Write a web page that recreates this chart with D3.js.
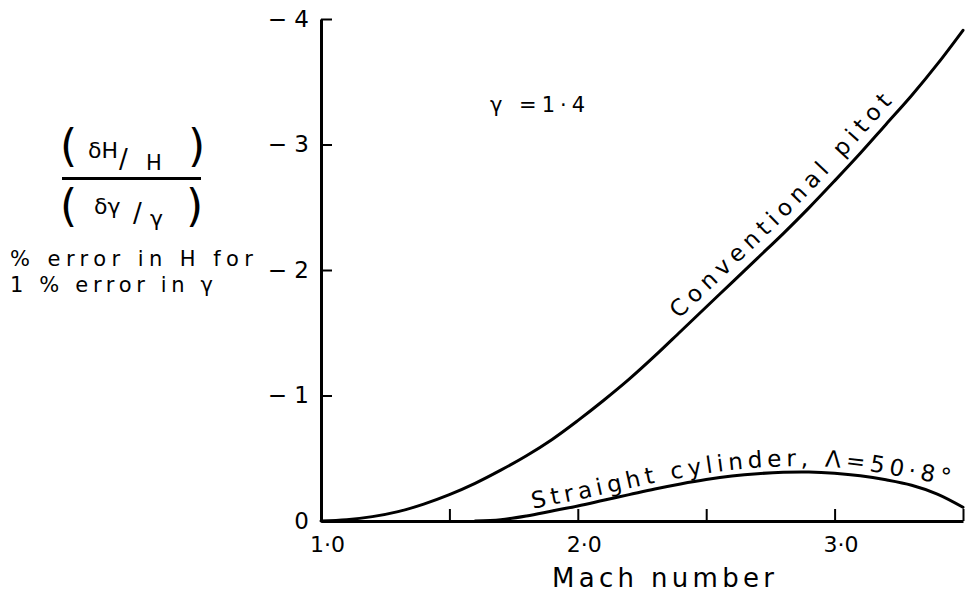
<!DOCTYPE html>
<html>
<head>
<meta charset="utf-8">
<script src="https://cdn.jsdelivr.net/npm/d3@7"></script>
<style>
  html, body { margin: 0; padding: 0; background: #fff; }
  svg { display: block; font-family: "DejaVu Sans", sans-serif; }
  text { fill: #000; }
</style>
</head>
<body>
<svg id="chart" width="975" height="603"></svg>
<script>
// Axis ticks
const machTicks = [1.0, 1.5, 2.0, 2.5, 3.0, 3.5];
const errorTicks = [0, -1, -2, -3, -4];

// Conventional pitot: (δH/H)/(δγ/γ) against Mach number
const pitotMach  = [1.0, 1.1, 1.2, 1.3, 1.4, 1.5, 1.6, 1.7, 1.8, 1.9, 2.0, 2.1, 2.2,
                    2.3, 2.4, 2.5, 2.6, 2.7, 2.8, 2.9, 3.0, 3.1, 3.2, 3.3, 3.4, 3.5];
const pitotError = [0, -0.01, -0.035, -0.075, -0.135, -0.21, -0.30, -0.405, -0.52, -0.65,
                    -0.80, -0.96, -1.13, -1.315, -1.51, -1.705, -1.90, -2.095, -2.29, -2.495,
                    -2.71, -2.93, -3.16, -3.39, -3.64, -3.91];

// Straight cylinder, Λ = 50·8°
const cylMach  = [1.6, 1.7, 1.8, 1.9, 2.0, 2.1, 2.2, 2.3, 2.4, 2.5, 2.6, 2.7, 2.8,
                  2.9, 3.0, 3.1, 3.2, 3.3, 3.4, 3.5];
const cylError = [0, -0.01, -0.04, -0.08, -0.12, -0.165, -0.21, -0.255, -0.295, -0.33,
                  -0.358, -0.377, -0.388, -0.39, -0.38, -0.36, -0.328, -0.285, -0.215, -0.11];

const pitotLabel = "Conventional pitot";
const cylLabel = "Straight cylinder, \u039B=50\u00B78\u00B0";
const gammaLabel = "\u03B3 =1\u00B74";
const xTitle = "Mach number";
const yNote = ["% error in H for", "1 % error in \u03B3"];

const svg = d3.select("#chart");

const x = d3.scaleLinear().domain([1.0, 3.5]).range([321, 963]);
const y = d3.scaleLinear().domain([0, -4]).range([521, 19]);

const fmtMach = d => Number.isInteger(d) ? d.toFixed(1).replace(".", "\u00B7") : "";
const fmtErr = d => d === 0 ? "0" : "\u2212 " + Math.abs(d);

// Axes
const gx = svg.append("g")
  .attr("transform", `translate(0,${y(0)})`)
  .call(d3.axisBottom(x).tickValues(machTicks).tickSize(-12).tickSizeOuter(0)
    .tickPadding(15).tickFormat(fmtMach));
gx.select(".domain").attr("stroke", "#000").attr("stroke-width", 3);
gx.selectAll(".tick line").attr("stroke", "#000").attr("stroke-width", 2);
gx.selectAll(".tick text").attr("font-size", 22).attr("font-family", "DejaVu Sans")
  .attr("dx", 6).attr("fill", "#000");

const gy = svg.append("g")
  .attr("transform", `translate(${x(1.0)},0)`)
  .call(d3.axisLeft(y).tickValues(errorTicks).tickSize(-11).tickSizeOuter(0)
    .tickPadding(12).tickFormat(fmtErr));
gy.select(".domain").attr("stroke", "#000").attr("stroke-width", 3);
gy.selectAll(".tick line").attr("stroke", "#000").attr("stroke-width", 2);
gy.selectAll(".tick text").attr("font-size", 23).attr("font-family", "DejaVu Sans")
  .attr("fill", "#000");

// Curves
const line = d3.line().x(d => x(d[0])).y(d => y(d[1])).curve(d3.curveCatmullRom.alpha(0.5));
const pitotPath = svg.append("path")
  .datum(pitotMach.map((m, i) => [m, pitotError[i]]))
  .attr("d", line).attr("fill", "none").attr("stroke", "#000")
  .attr("stroke-width", 3).attr("stroke-linecap", "round");
const cylPath = svg.append("path")
  .datum(cylMach.map((m, i) => [m, cylError[i]]))
  .attr("d", line).attr("fill", "none").attr("stroke", "#000")
  .attr("stroke-width", 3).attr("stroke-linecap", "round");

// Arc length along a path at which it reaches a given x
function lengthAtX(node, xt) {
  let lo = 0, hi = node.getTotalLength();
  for (let k = 0; k < 40; k++) {
    const mid = (lo + hi) / 2;
    if (node.getPointAtLength(mid).x < xt) lo = mid; else hi = mid;
  }
  return (lo + hi) / 2;
}

// Guide running parallel to a curve (above it), continued along its end tangent
function guide(node, m0, m1, offset, extend) {
  const total = node.getTotalLength();
  const s0 = lengthAtX(node, x(m0)), s1 = lengthAtX(node, x(m1));
  const pts = [];
  let tx = 1, ty = 0;
  for (let s = s0; s <= s1 + 0.01; s += 2) {
    const p = node.getPointAtLength(s);
    const a = node.getPointAtLength(Math.max(0, s - 1.5));
    const b = node.getPointAtLength(Math.min(total, s + 1.5));
    tx = b.x - a.x; ty = b.y - a.y;
    const n = Math.hypot(tx, ty) || 1; tx /= n; ty /= n;
    pts.push([p.x + ty * offset, p.y - tx * offset]);
  }
  const last = pts[pts.length - 1];
  pts.push([last[0] + tx * extend, last[1] + ty * extend]);
  return d3.line()(pts);
}

const defs = svg.append("defs");
defs.append("path").attr("id", "pitotGuide")
  .attr("d", guide(pitotPath.node(), 2.42, 3.45, 10, 40));
defs.append("path").attr("id", "cylGuide")
  .attr("d", guide(cylPath.node(), 1.83, 3.22, 6, 140));

// Text along a guide, spread to a given length
function labelOnGuide(id, str, size, len) {
  const t = svg.append("text").attr("font-size", size);
  t.append("textPath").attr("href", "#" + id).text(str);
  const natural = t.node().getComputedTextLength();
  const ls = (len - natural) / (str.length - 1);
  t.attr("letter-spacing", ls);
  return t;
}
labelOnGuide("pitotGuide", pitotLabel, 23, 305);
labelOnGuide("cylGuide", cylLabel, 23, 422);

// γ annotation
svg.append("text").attr("x", 490).attr("y", 112).attr("font-size", 21)
  .attr("textLength", 95).attr("lengthAdjust", "spacing").text(gammaLabel);

// Axis titles
svg.append("text").attr("x", 552).attr("y", 587).attr("font-size", 26)
  .attr("textLength", 222).attr("lengthAdjust", "spacing").text(xTitle);

svg.append("text").attr("x", 10).attr("y", 266).attr("font-size", 21)
  .attr("textLength", 243).attr("lengthAdjust", "spacing").text(yNote[0]);
svg.append("text").attr("x", 10).attr("y", 292).attr("font-size", 21)
  .attr("textLength", 203).attr("lengthAdjust", "spacing").text(yNote[1]);

// Ratio (δH/H)/(δγ/γ)
const frac = svg.append("g");
const put = (tx, ty, size, str) =>
  frac.append("text").attr("x", tx).attr("y", ty).attr("font-size", size).text(str);
put(60, 161, 44, "(");
put(88, 158, 22, "\u03B4H");
put(119, 168, 26, "/");
put(146, 170, 21, "H");
put(188, 161, 44, ")");
frac.append("line").attr("x1", 62).attr("x2", 201).attr("y1", 178.5).attr("y2", 178.5)
  .attr("stroke", "#000").attr("stroke-width", 3);
put(60, 221, 44, "(");
put(94, 214, 22, "\u03B4\u03B3");
put(133, 222, 26, "/");
put(150, 226, 22, "\u03B3");
put(186, 221, 44, ")");
</script>
</body>
</html>
